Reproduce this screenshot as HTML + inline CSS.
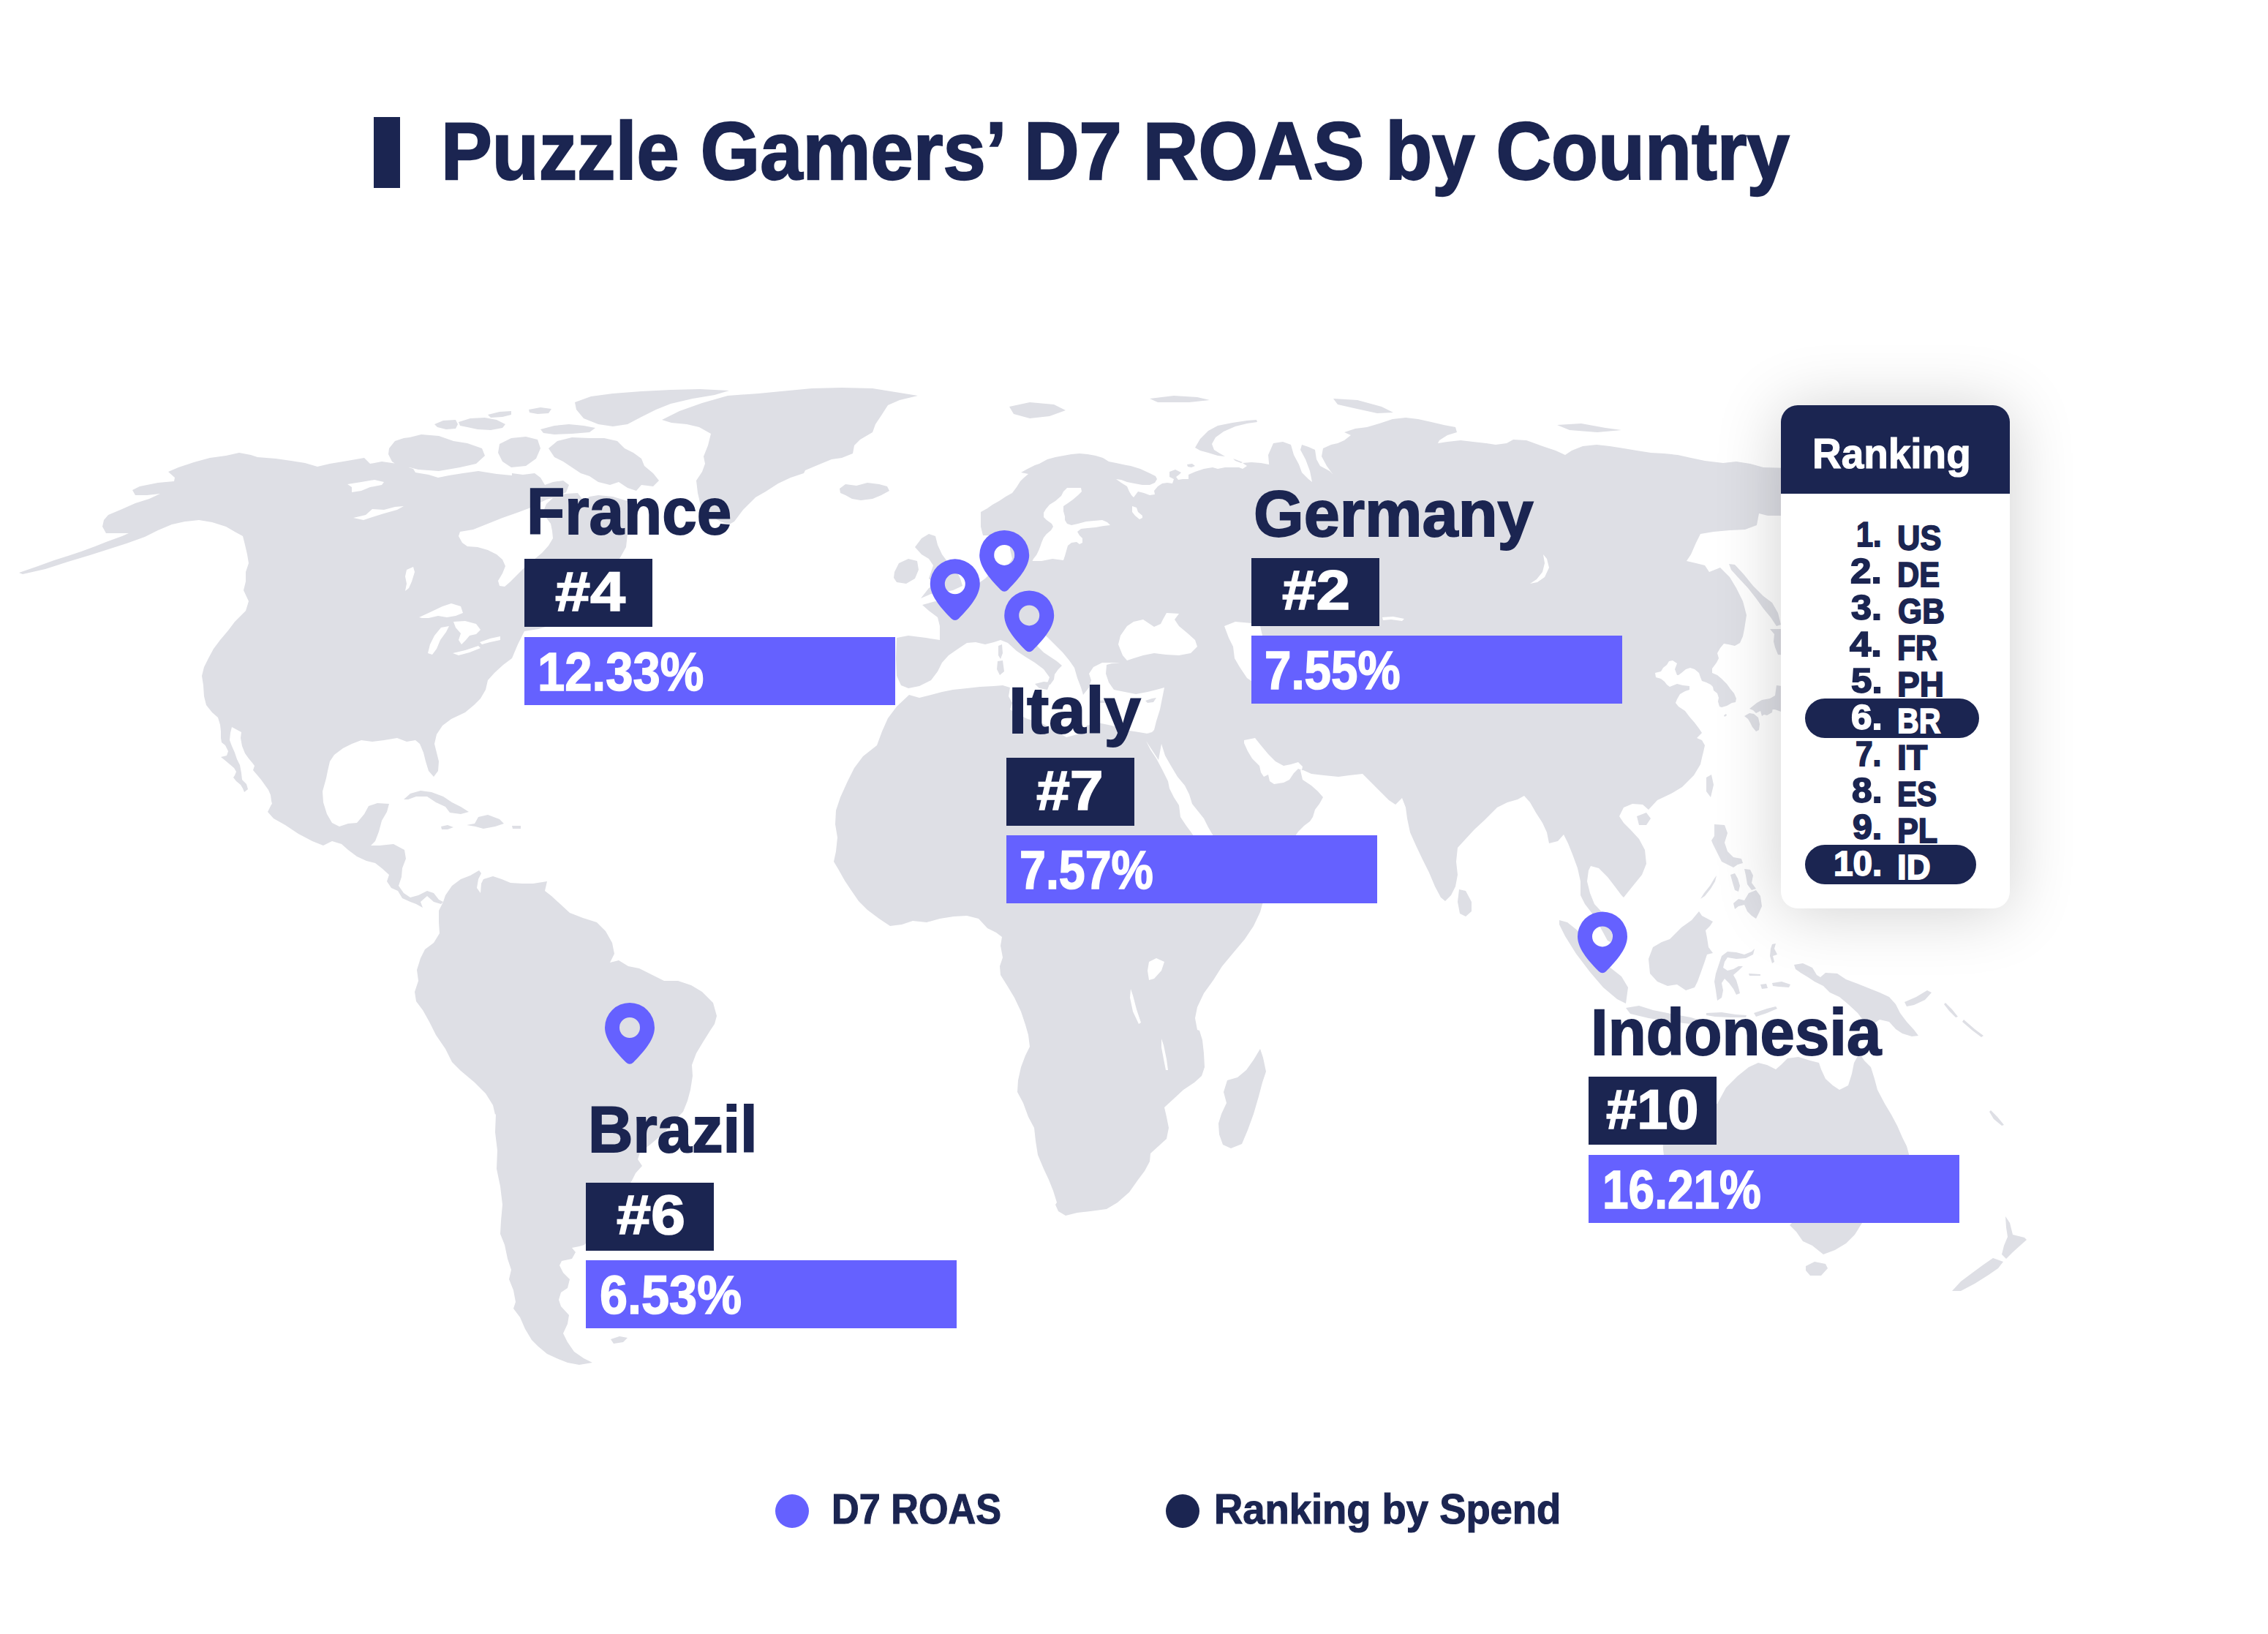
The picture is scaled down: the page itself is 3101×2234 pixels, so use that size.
<!DOCTYPE html>
<html><head><meta charset="utf-8"><title>Puzzle Gamers' D7 ROAS by Country</title>
<style>
html,body{margin:0;padding:0;background:#fff}
body{width:3101px;height:2234px;position:relative;overflow:hidden;font-family:"Liberation Sans",sans-serif;font-weight:700}
.t{position:absolute;line-height:1;white-space:nowrap;transform-origin:left top}
.r{position:absolute}
svg{position:absolute;left:0;top:0}
.card{position:absolute;left:2435px;top:553.7px;width:313px;height:688.3px;border-radius:23px;background:#fff;box-shadow:0 4px 90px rgba(0,0,10,0.19);overflow:hidden}
.hd{height:121.6px;background:#1b2551}
</style></head><body>
<svg width="3101" height="2234" viewBox="0 0 3101 2234"><g fill="#dedfe5"><path d="M26,783L52,774L74,766L93,760L111,754L130,747L145,741L167,733L176,729L160,729L145,729L140,720L142,711L148,704L167,696L185,688L204,682L219,675L201,677L185,677L181,670L191,665L216,660L238,658L239,653L230,645L244,639L265,632L287,626L309,623L327,619L343,622L352,625L377,627L398,630L417,633L434,638L451,634L475,630L498,626L506,634L522,631L543,634L565,641L568,646L586,649L599,653L614,650L633,647L654,644L679,648L700,650L700,647L715,649L731,647L739,653L745,663L756,659L770,657L778,663L774,673L762,679L747,683L735,689L723,695L707,701L687,708L667,716L647,724L629,727L627,733L632,742L639,747L653,748L667,752L679,758L687,765L691,774L687,784L681,794L683,801L690,802L697,796L707,786L717,776L729,766L741,756L750,746L756,736L755,726L753,716L747,708L743,699L747,689L758,679L774,675L790,674L798,685L806,679L818,677L838,679L858,685L862,705L858,730L856,748L847,764L841,782L828,798L816,813L798,829L785,844L760,853L736,860L717,863L708,881L700,900L688,909L676,920L667,930L664,943L657,955L648,964L636,974L617,983L605,992L597,1004L594,1017L597,1029L600,1041L599,1054L593,1062L586,1054L582,1041L579,1029L574,1017L568,1012L556,1014L543,1009L525,1012L509,1014L494,1012L481,1017L469,1023L457,1032L451,1041L448,1054L446,1064L446,1064L441,1082L442,1097L447,1113L454,1125L464,1130L476,1126L488,1125L498,1113L504,1102L516,1098L532,1099L529,1110L522,1122L518,1137L513,1150L507,1156L519,1156L538,1154L553,1162L555,1174L550,1187L549,1199L545,1211L552,1221L561,1227L572,1224L584,1218L593,1221L600,1230L606,1233L603,1236L593,1233L584,1225L575,1233L578,1241L569,1236L561,1233L550,1228L544,1218L535,1214L529,1205L532,1196L522,1187L513,1180L501,1177L488,1171L476,1162L467,1154L454,1150L442,1156L427,1150L408,1140L390,1128L374,1119L366,1110L371,1100L372,1099L371,1095L370,1087L367,1080L362,1073L357,1066L352,1060L346,1053L348,1047L345,1043L340,1037L335,1030L331,1020L329,1009L330,1001L317,994L315,1002L314,1012L317,1020L321,1029L324,1038L328,1046L330,1057L331,1066L337,1072L339,1079L334,1083L332,1078L329,1073L323,1068L319,1063L321,1060L323,1055L320,1050L313,1044L307,1039L302,1035L310,1033L312,1027L308,1019L303,1015L302,1009L302,1000L301,991L298,981L290,974L282,964L279,952L278,937L276,924L279,912L285,900L292,887L301,875L312,862L321,850L327,844L336,835L340,822L333,807L336,795L336,782L340,770L338,758L335,745L332,733L321,727L309,720L290,714L272,711L253,713L235,717L216,725L198,734L173,743L148,751L123,759L93,768L62,778L31,785ZM905,574L929,562L960,551L995,541L1037,538L1068,535L1110,531L1151,530L1193,531L1224,536L1255,541L1230,547L1214,554L1205,568L1197,580L1193,591L1176,601L1168,609L1166,620L1151,626L1137,628L1120,635L1101,643L1099,647L1081,653L1064,661L1047,672L1033,680L1024,689L1016,697L1010,705L1004,713L997,717L985,713L968,703L958,691L954,674L952,657L960,645L964,634L962,624L968,609L972,593L956,584L939,580L918,578ZM1148,668L1156,662L1171,664L1186,660L1202,662L1213,665L1216,671L1205,677L1193,682L1177,684L1165,682L1156,677L1149,674ZM552,1093L561,1085L575,1081L590,1083L606,1089L618,1097L630,1103L641,1110L630,1113L615,1111L609,1103L596,1097L584,1089L569,1089L558,1093ZM638,1128L649,1126L654,1117L667,1114L683,1120L689,1126L677,1130L661,1133L650,1130ZM603,1130L612,1128L620,1131L612,1134L604,1134ZM700,1129L712,1129L712,1133L701,1133ZM606,1233L609,1224L618,1211L630,1202L643,1197L655,1190L658,1194L654,1202L652,1214L657,1221L658,1208L661,1202L674,1198L686,1202L698,1207L714,1208L729,1208L748,1205L745,1218L754,1225L766,1236L779,1248L797,1255L816,1261L828,1273L837,1289L840,1304L834,1316L846,1313L859,1321L874,1324L890,1332L908,1341L927,1341L945,1347L960,1356L975,1371L980,1389L977,1400L971,1409L961,1425L952,1440L946,1456L947,1471L944,1490L940,1505L934,1520L921,1533L909,1548L890,1564L875,1576L872,1585L878,1594L869,1604L863,1616L856,1622L844,1635L847,1647L841,1665L829,1678L807,1693L799,1702L792,1704L782,1706L787,1712L782,1721L768,1724L765,1730L770,1740L779,1749L776,1761L767,1767L764,1777L767,1786L778,1798L776,1810L770,1823L776,1835L785,1848L798,1857L810,1863L792,1866L776,1863L761,1857L748,1851L736,1841L727,1832L718,1817L711,1801L702,1789L705,1780L702,1764L696,1749L699,1736L694,1721L690,1702L684,1687L685,1669L687,1647L684,1622L679,1598L680,1573L677,1548L678,1523L677,1524L674,1511L664,1495L649,1480L630,1464L618,1452L609,1434L596,1415L587,1397L578,1381L569,1369L567,1356L572,1341L570,1326L575,1310L581,1298L593,1289L601,1276L600,1261L600,1245ZM835,1831L847,1827L858,1829L852,1835L839,1837ZM1226,872L1242,869L1266,872L1285,875L1285,856L1282,844L1270,835L1261,827L1279,822L1291,824L1294,816L1303,819L1316,813L1328,804L1337,798L1347,791L1356,782L1365,776L1378,773L1384,764L1381,751L1381,739L1390,733L1393,745L1396,758L1402,765L1411,767L1424,767L1439,764L1454,766L1456,760L1458,753L1460,746L1465,742L1472,741L1476,744L1480,742L1480,736L1476,732L1473,727L1478,723L1487,722L1498,721L1509,719L1518,718L1514,714L1507,711L1496,712L1485,713L1474,716L1465,718L1459,716L1456,711L1456,706L1454,699L1454,692L1460,688L1467,683L1474,677L1479,672L1478,667L1459,667L1454,672L1451,678L1443,685L1435,690L1430,696L1427,701L1427,707L1431,711L1438,716L1440,720L1437,725L1431,730L1427,735L1424,742L1422,748L1420,753L1417,759L1413,764L1410,770L1407,782L1401,787L1396,776L1393,761L1391,745L1378,733L1344,732L1341,720L1341,709L1341,700L1350,695L1357,690L1366,685L1375,679L1384,674L1390,666L1395,658L1399,654L1406,648L1396,646L1405,641L1415,636L1421,634L1432,628L1443,625L1454,623L1465,621L1476,620L1487,621L1498,623L1508,626L1516,631L1526,633L1540,636L1546,637L1559,641L1572,647L1580,651L1582,655L1579,660L1572,663L1562,663L1551,661L1541,659L1533,656L1526,655L1533,660L1541,665L1544,672L1547,677L1550,680L1556,672L1564,674L1572,677L1579,676L1578,671L1583,665L1589,661L1596,660L1603,661L1605,655L1599,652L1599,645L1607,642L1615,646L1612,649L1608,652L1611,656L1617,655L1625,655L1625,649L1634,645L1646,641L1658,639L1665,641L1675,639L1685,639L1694,639L1699,641L1705,637L1699,633L1711,632L1724,633L1740,636L1736,644L1734,622L1741,606L1754,604L1765,608L1769,622L1776,635L1780,646L1789,655L1794,659L1791,644L1785,628L1778,615L1780,608L1789,611L1798,615L1800,628L1805,637L1818,644L1822,648L1814,637L1807,624L1809,613L1820,608L1829,606L1838,602L1847,595L1838,591L1853,586L1869,584L1886,579L1904,573L1922,571L1939,573L1957,577L1974,581L1990,584L1992,591L1979,595L1968,602L1966,606L1979,604L1997,602L2014,604L2032,606L2045,608L2060,606L2069,601L2087,602L2109,610L2127,616L2140,622L2149,616L2164,610L2183,608L2201,610L2220,613L2238,616L2257,619L2275,620L2294,622L2312,626L2331,630L2356,633L2374,631L2393,634L2411,639L2448,640L2448,705L2417,705L2405,702L2402,718L2386,724L2365,725L2343,727L2325,730L2319,742L2312,758L2306,767L2319,770L2331,773L2337,782L2352,776L2365,789L2374,804L2383,822L2388,841L2385,860L2383,870L2379,879L2372,883L2363,881L2357,880L2352,886L2348,893L2350,900L2347,906L2341,914L2341,920L2348,923L2354,928L2361,935L2366,942L2371,948L2374,955L2373,960L2368,961L2361,965L2354,967L2351,966L2349,959L2350,954L2348,948L2343,944L2342,939L2339,936L2333,933L2327,931L2325,926L2323,920L2317,915L2311,913L2305,915L2299,920L2295,923L2293,923L2290,915L2293,907L2287,903L2282,904L2279,909L2274,913L2271,918L2263,920L2264,926L2271,928L2276,932L2279,936L2283,939L2293,935L2301,937L2310,938L2310,943L2304,945L2297,949L2293,956L2291,961L2295,966L2304,972L2310,980L2317,988L2323,996L2327,1002L2320,1009L2327,1012L2331,1019L2329,1028L2327,1036L2325,1045L2316,1060L2300,1076L2285,1085L2266,1094L2254,1107L2246,1100L2232,1099L2220,1104L2214,1116L2220,1125L2229,1134L2241,1147L2249,1162L2251,1181L2245,1196L2232,1212L2220,1227L2217,1224L2208,1212L2198,1199L2186,1187L2175,1184L2172,1190L2170,1205L2174,1221L2180,1236L2192,1249L2204,1276L2206,1290L2198,1286L2186,1264L2177,1249L2167,1236L2161,1224L2161,1205L2157,1187L2150,1168L2144,1153L2138,1141L2130,1150L2118,1153L2115,1138L2109,1125L2100,1111L2092,1097L2084,1088L2075,1093L2061,1097L2047,1104L2038,1113L2029,1122L2016,1134L2004,1147L1993,1159L1991,1178L1993,1196L1990,1212L1984,1224L1976,1232L1970,1227L1962,1212L1954,1193L1945,1175L1936,1156L1928,1138L1924,1119L1922,1104L1917,1091L1908,1100L1899,1094L1890,1085L1879,1074L1871,1066L1863,1058L1845,1060L1830,1062L1810,1060L1793,1058L1782,1053L1778,1053L1781,1066L1793,1074L1802,1082L1809,1090L1804,1099L1798,1107L1795,1117L1791,1123L1783,1129L1775,1137L1771,1143L1755,1156L1726,1176L1697,1188L1677,1191L1665,1176L1659,1143L1652,1131L1646,1119L1638,1109L1630,1099L1626,1086L1620,1074L1610,1062L1601,1047L1593,1033L1588,1017L1584,1039L1567,1013L1566,1003L1575,1001L1578,998L1581,986L1586,970L1589,955L1592,940L1581,943L1569,946L1553,949L1538,946L1523,943L1516,933L1512,921L1513,909L1520,907L1532,906L1520,906L1507,906L1495,912L1489,921L1492,930L1489,940L1481,950L1478,940L1473,927L1469,913L1462,903L1453,892L1442,881L1433,872L1424,864L1410,865L1413,875L1419,884L1427,892L1436,898L1445,904L1452,910L1447,915L1442,922L1441,929L1436,936L1432,934L1435,926L1427,915L1415,906L1402,898L1390,890L1378,879L1368,875L1359,878L1347,881L1334,878L1322,879L1310,887L1297,896L1288,906L1282,918L1273,930L1257,938L1242,941L1232,937L1226,924L1225,900ZM1251,748L1260,736L1270,730L1279,733L1282,745L1288,758L1297,770L1307,779L1313,791L1316,801L1303,807L1288,810L1273,812L1259,818L1270,804L1279,798L1270,791L1273,782L1276,773L1270,764L1260,758ZM1223,782L1229,770L1242,764L1254,767L1256,779L1251,791L1239,798L1226,796L1222,790ZM1365,883L1370,881L1371,893L1368,901L1365,896ZM1364,904L1371,903L1373,918L1367,923L1363,915ZM1415,935L1427,932L1436,933L1432,943L1421,941ZM1501,958L1513,957L1523,959L1513,961L1503,961ZM1566,958L1575,955L1581,954L1577,960L1569,961ZM1634,612L1641,600L1652,589L1665,582L1685,578L1705,575L1718,574L1719,577L1705,579L1689,583L1673,590L1662,598L1657,607L1660,615L1668,620L1675,624L1665,623L1652,619L1641,616ZM1623,635L1630,634L1634,637L1629,639L1624,638ZM1686,627L1694,630L1699,632L1697,633L1689,630ZM1380,556L1408,550L1441,553L1457,561L1435,569L1408,572L1386,566ZM1572,545L1605,541L1637,543L1654,547L1626,550L1583,550ZM1823,545L1856,547L1889,556L1905,564L1883,565L1851,558L1829,553ZM2129,581L2162,579L2195,585L2217,588L2184,591L2146,588ZM2364,771L2372,772L2384,785L2397,801L2411,815L2423,824L2431,838L2435,854L2429,856L2421,844L2411,832L2401,818L2390,804L2376,789L2367,779ZM2420,860L2426,867L2425,877L2427,885L2431,895L2443,896L2443,860ZM2392,969L2402,961L2409,957L2420,955L2427,951L2428,944L2429,937L2443,939L2443,976L2427,970L2419,969L2415,975L2409,979L2407,972L2401,975L2397,971ZM2385,979L2392,975L2398,976L2404,981L2406,990L2405,998L2401,1000L2396,994L2393,988L2390,983ZM2409,971L2416,968L2424,967L2423,974L2416,978L2412,977ZM2357,978L2360,976L2361,978L2358,980ZM2238,1116L2251,1111L2257,1119L2251,1128L2241,1128ZM2333,1063L2340,1059L2343,1073L2339,1090L2333,1082ZM1995,1216L2004,1218L2012,1233L2012,1246L2004,1253L1996,1249L1993,1233ZM2132,1258L2143,1261L2158,1273L2174,1289L2198,1320L2217,1335L2226,1350L2223,1372L2211,1366L2192,1350L2174,1329L2155,1304L2140,1280L2132,1264ZM2223,1378L2241,1375L2260,1381L2285,1386L2312,1391L2331,1397L2312,1400L2285,1397L2254,1392L2229,1386ZM2344,1127L2358,1128L2362,1139L2358,1152L2362,1164L2370,1172L2381,1174L2383,1180L2376,1182L2370,1186L2362,1182L2354,1178L2348,1166L2342,1154L2340,1149L2344,1143ZM2325,1229L2330,1221L2338,1211L2344,1201L2347,1197L2345,1205L2339,1215L2331,1225ZM2385,1188L2393,1189L2397,1197L2395,1207L2401,1215L2395,1217L2389,1209L2387,1197ZM2366,1196L2372,1194L2376,1201L2379,1211L2377,1219L2372,1217L2369,1207ZM2370,1235L2377,1229L2385,1231L2391,1221L2401,1217L2407,1225L2409,1239L2405,1248L2401,1256L2395,1252L2389,1246L2385,1237L2377,1239L2372,1243ZM2260,1295L2272,1288L2283,1284L2299,1268L2313,1258L2323,1246L2327,1252L2342,1260L2338,1266L2332,1272L2334,1282L2336,1295L2342,1303L2334,1305L2330,1317L2325,1331L2321,1342L2317,1350L2305,1354L2293,1346L2280,1348L2266,1342L2256,1331L2254,1311ZM2354,1307L2362,1301L2374,1302L2385,1305L2395,1301L2399,1297L2397,1305L2387,1310L2374,1311L2362,1309L2358,1315L2356,1323L2362,1327L2370,1325L2377,1321L2383,1321L2377,1327L2370,1333L2374,1340L2377,1350L2379,1358L2374,1360L2370,1352L2364,1344L2358,1338L2354,1344L2356,1354L2354,1364L2348,1368L2346,1354L2344,1342L2346,1331L2350,1319ZM2423,1291L2428,1290L2426,1297L2430,1305L2424,1307L2426,1315L2423,1317L2420,1307L2421,1297ZM2423,1344L2436,1342L2448,1346L2446,1350L2432,1349L2424,1348ZM2407,1346L2415,1345L2417,1351L2409,1352ZM2391,1331L2407,1332L2407,1334L2392,1334ZM2398,1385L2416,1379L2428,1376L2430,1379L2416,1385L2401,1390ZM2333,1385L2354,1384L2373,1387L2388,1388L2387,1391L2367,1391L2345,1390L2333,1388ZM2453,1319L2465,1317L2478,1323L2484,1333L2489,1336L2496,1330L2512,1331L2524,1339L2540,1345L2555,1351L2570,1357L2583,1363L2592,1373L2598,1385L2607,1397L2617,1408L2623,1416L2614,1417L2601,1413L2592,1407L2583,1397L2570,1394L2561,1400L2549,1397L2540,1385L2527,1373L2515,1363L2502,1357L2493,1348L2481,1342L2472,1336L2462,1330L2455,1325ZM2604,1370L2620,1363L2635,1354L2641,1357L2632,1367L2617,1374L2607,1376ZM2660,1371L2669,1380L2677,1390L2674,1391L2665,1382L2658,1373ZM2685,1394L2700,1407L2712,1416L2709,1418L2697,1409L2683,1397ZM2722,1518L2731,1527L2740,1538L2737,1539L2726,1530L2720,1520ZM2277,1521L2299,1518L2323,1515L2348,1509L2360,1487L2376,1471L2391,1459L2404,1453L2416,1456L2428,1462L2435,1456L2444,1447L2459,1445L2475,1450L2487,1453L2490,1462L2496,1475L2506,1484L2515,1490L2527,1484L2532,1468L2535,1453L2540,1444L2541,1438L2549,1450L2558,1459L2563,1475L2567,1490L2577,1509L2586,1524L2594,1539L2601,1555L2607,1567L2610,1578L2612,1595L2607,1617L2595,1638L2577,1657L2546,1672L2536,1688L2524,1700L2509,1709L2493,1715L2478,1703L2465,1697L2456,1684L2447,1675L2459,1663L2462,1654L2453,1641L2441,1629L2416,1620L2385,1617L2354,1623L2323,1632L2305,1638L2290,1632L2283,1620L2277,1595L2274,1572L2273,1549ZM2469,1731L2481,1725L2496,1728L2499,1734L2490,1744L2475,1744L2469,1737ZM2742,1663L2748,1672L2752,1688L2768,1692L2771,1695L2762,1703L2752,1712L2743,1721L2737,1715L2740,1703L2745,1691L2743,1678ZM2725,1720L2739,1725L2732,1734L2719,1743L2700,1755L2681,1765L2669,1765L2681,1752L2697,1740L2712,1729ZM1243,950L1257,954L1273,950L1288,946L1303,943L1322,941L1340,939L1359,938L1371,937L1381,940L1379,952L1384,961L1381,970L1393,977L1405,983L1421,987L1442,998L1458,1008L1473,1004L1486,992L1501,988L1520,992L1538,998L1557,1001L1569,1003L1578,1000L1566,1003L1567,1013L1573,1025L1581,1037L1589,1052L1597,1068L1599,1078L1605,1090L1612,1101L1614,1117L1622,1129L1628,1137L1632,1143L1642,1166L1657,1195L1687,1201L1716,1197L1740,1205L1733,1225L1726,1236L1723,1247L1714,1266L1702,1284L1686,1303L1671,1321L1659,1340L1646,1358L1637,1377L1634,1392L1637,1408L1640,1409L1644,1422L1646,1440L1647,1459L1643,1471L1633,1480L1618,1490L1604,1503L1592,1514L1595,1527L1598,1542L1595,1557L1584,1567L1573,1577L1572,1588L1565,1601L1556,1613L1544,1630L1528,1644L1513,1653L1491,1656L1473,1658L1457,1662L1447,1656L1443,1647L1445,1644L1440,1628L1434,1613L1427,1598L1419,1579L1416,1560L1414,1542L1406,1527L1399,1508L1391,1493L1392,1477L1396,1459L1402,1443L1408,1431L1406,1415L1402,1401L1396,1383L1387,1364L1378,1349L1368,1333L1367,1321L1371,1309L1368,1293L1370,1281L1362,1275L1350,1269L1338,1256L1322,1252L1304,1253L1285,1256L1267,1261L1248,1259L1233,1264L1217,1266L1202,1256L1186,1244L1174,1232L1165,1219L1155,1204L1146,1188L1140,1178L1143,1164L1145,1145L1142,1127L1143,1108L1149,1090L1159,1068L1168,1050L1180,1034L1199,1019L1206,1000L1214,982L1226,966L1243,950ZM1723,1434L1727,1446L1731,1465L1726,1480L1721,1499L1714,1523L1706,1545L1698,1564L1683,1570L1672,1565L1667,1551L1666,1536L1670,1523L1677,1508L1673,1493L1678,1477L1692,1473L1704,1463L1714,1449ZM594,580L606,575L623,574L626,580L623,586L610,587L598,584ZM627,577L643,572L663,571L679,574L691,580L687,585L671,588L653,587L639,584L629,582ZM667,567L683,563L699,562L699,567L687,570L671,571ZM531,621L532,613L540,603L552,599L560,598L576,594L600,596L620,603L639,606L659,613L663,623L651,634L629,639L600,644L572,642L560,639L548,639L536,631ZM683,607L699,599L719,597L735,601L739,613L733,627L719,637L699,639L687,631L681,619ZM739,587L758,582L778,580L798,582L814,585L806,591L782,593L758,594L743,592ZM723,560L739,557L754,559L750,565L735,566L724,564ZM786,550L808,542L838,538L877,535L917,533L957,532L997,534L977,540L947,545L917,552L897,560L877,570L858,580L838,583L818,580L798,572L788,560ZM750,613L762,603L782,598L806,599L826,599L844,603L854,613L866,619L877,627L881,637L893,647L901,657L893,665L877,663L870,671L858,667L846,659L834,663L818,659L806,651L794,647L782,639L770,631L758,625Z"/><path fill="#fff" d="M573,844L586,838L605,829L617,825L630,829L633,838L623,842L611,844L599,842L586,845L577,845ZM603,858L594,869L588,881L585,893L591,895L597,887L602,875L610,864L614,856ZM620,850L636,849L651,853L657,861L651,867L642,869L637,875L631,881L627,875L630,866L623,858ZM619,893L636,889L654,883L657,886L642,892L627,896ZM656,878L670,873L684,870L684,875L670,878L659,881ZM556,779L565,775L567,782L563,795L559,804L554,808L556,798L554,788ZM483,708L500,704L509,696L525,697L540,693L552,692L543,697L525,702L509,707L497,711ZM475,662L494,659L512,656L525,659L522,663L506,666L494,671L481,673L481,666ZM1548,692L1554,694L1556,700L1562,705L1562,708L1558,710L1552,705L1548,700ZM1535,896L1529,881L1532,869L1541,856L1550,850L1563,847L1572,853L1578,857L1587,853L1590,847L1595,838L1612,839L1606,847L1612,856L1624,866L1634,875L1637,884L1628,893L1612,896L1594,895L1578,893L1563,896L1550,900L1541,903ZM1674,856L1689,850L1711,852L1723,856L1726,869L1717,878L1711,887L1717,900L1723,915L1726,930L1717,935L1705,927L1695,912L1688,900L1686,884L1680,872ZM1701,1012L1716,1009L1724,1019L1734,1031L1744,1041L1755,1047L1765,1045L1775,1042L1781,1048L1780,1053L1775,1051L1769,1057L1763,1066L1755,1070L1742,1072L1736,1068L1734,1059L1728,1062L1724,1056L1722,1047L1712,1037L1706,1027L1701,1016ZM2110,758L2115,764L2118,776L2112,789L2102,796L2092,798L2101,792L2109,782L2112,770ZM1890,844L1905,843L1920,846L1917,849L1902,847L1891,848ZM1571,1315L1581,1310L1592,1315L1588,1327L1578,1338L1571,1340L1569,1327ZM1546,1352L1549,1361L1554,1380L1560,1398L1557,1400L1549,1383L1545,1364ZM1588,1420L1591,1429L1595,1448L1597,1463L1594,1463L1591,1448L1588,1432Z"/></g></svg>
<svg width="3101" height="2234" viewBox="0 0 3101 2234" style="z-index:2"><g fill="#6561ff" fill-rule="evenodd"><path transform="translate(1271.8,764.3)" d="M34,0A34,34 0 0 1 68,34C68,52 50,70 39,81.5Q34,86 29,81.5C18,70 0,52 0,34A34,34 0 0 1 34,0ZM34,20A14,14 0 1 0 34,48A14,14 0 1 0 34,20Z"/><path transform="translate(1339.2,724.9)" d="M34,0A34,34 0 0 1 68,34C68,52 50,70 39,81.5Q34,86 29,81.5C18,70 0,52 0,34A34,34 0 0 1 34,0ZM34,20A14,14 0 1 0 34,48A14,14 0 1 0 34,20Z"/><path transform="translate(1373.2,807.4)" d="M34,0A34,34 0 0 1 68,34C68,52 50,70 39,81.5Q34,86 29,81.5C18,70 0,52 0,34A34,34 0 0 1 34,0ZM34,20A14,14 0 1 0 34,48A14,14 0 1 0 34,20Z"/><path transform="translate(827,1371)" d="M34,0A34,34 0 0 1 68,34C68,52 50,70 39,81.5Q34,86 29,81.5C18,70 0,52 0,34A34,34 0 0 1 34,0ZM34,20A14,14 0 1 0 34,48A14,14 0 1 0 34,20Z"/><path transform="translate(2157,1246.4)" d="M34,0A34,34 0 0 1 68,34C68,52 50,70 39,81.5Q34,86 29,81.5C18,70 0,52 0,34A34,34 0 0 1 34,0ZM34,20A14,14 0 1 0 34,48A14,14 0 1 0 34,20Z"/></g></svg>
<div style="position:absolute;left:0;top:0;z-index:3">
<div class="r" style="left:511.0px;top:160.0px;width:36.0px;height:97.0px;background:#1b2551;"></div>
<div class="t" style="left:602.6px;top:151.4px;font-size:111.4px;color:#1b2551;-webkit-text-stroke:2.30px #1b2551;transform:scaleX(0.9396);">Puzzle Gamers’ D7 ROAS by Country</div>
<div class="t" style="left:719.9px;top:655.2px;font-size:89.7px;color:#1b2551;-webkit-text-stroke:1.85px #1b2551;transform:scaleX(0.9526);">France</div>
<div class="r" style="left:717.0px;top:764.2px;width:175.0px;height:93.0px;background:#1b2551;"></div>
<div class="t" style="left:758.6px;top:771.9px;font-size:75.6px;color:#fff;-webkit-text-stroke:1.56px #fff;transform:scaleX(1.1432);">#4</div>
<div class="r" style="left:717.0px;top:870.5px;width:507.0px;height:93.0px;background:#6561ff;"></div>
<div class="t" style="left:734.9px;top:881.5px;font-size:73.7px;color:#fff;-webkit-text-stroke:1.52px #fff;transform:scaleX(0.9093);">12.33%</div>
<div class="t" style="left:1714.1px;top:657.7px;font-size:89.5px;color:#1b2551;-webkit-text-stroke:1.84px #1b2551;transform:scaleX(0.9863);">Germany</div>
<div class="r" style="left:1711.0px;top:762.7px;width:175.0px;height:93.0px;background:#1b2551;"></div>
<div class="t" style="left:1753.0px;top:770.4px;font-size:75.6px;color:#fff;-webkit-text-stroke:1.56px #fff;transform:scaleX(1.1083);">#2</div>
<div class="r" style="left:1711.0px;top:869.0px;width:507.0px;height:93.0px;background:#6561ff;"></div>
<div class="t" style="left:1728.7px;top:880.0px;font-size:73.7px;color:#fff;-webkit-text-stroke:1.52px #fff;transform:scaleX(0.8886);">7.55%</div>
<div class="t" style="left:1378.6px;top:927.0px;font-size:89.4px;color:#1b2551;-webkit-text-stroke:1.84px #1b2551;transform:scaleX(1.0113);">Italy</div>
<div class="r" style="left:1376.4px;top:1036.0px;width:175.0px;height:93.0px;background:#1b2551;"></div>
<div class="t" style="left:1417.2px;top:1043.7px;font-size:75.6px;color:#fff;-webkit-text-stroke:1.56px #fff;transform:scaleX(1.0909);">#7</div>
<div class="r" style="left:1376.4px;top:1142.3px;width:507.0px;height:93.0px;background:#6561ff;"></div>
<div class="t" style="left:1393.7px;top:1153.3px;font-size:73.7px;color:#fff;-webkit-text-stroke:1.52px #fff;transform:scaleX(0.8758);">7.57%</div>
<div class="t" style="left:804.0px;top:1499.5px;font-size:89.3px;color:#1b2551;-webkit-text-stroke:1.84px #1b2551;transform:scaleX(0.9529);">Brazil</div>
<div class="r" style="left:800.9px;top:1616.5px;width:175.0px;height:93.0px;background:#1b2551;"></div>
<div class="t" style="left:842.6px;top:1624.2px;font-size:75.6px;color:#fff;-webkit-text-stroke:1.56px #fff;transform:scaleX(1.1182);">#6</div>
<div class="r" style="left:800.9px;top:1722.8px;width:507.0px;height:93.0px;background:#6561ff;"></div>
<div class="t" style="left:820.1px;top:1733.8px;font-size:73.7px;color:#fff;-webkit-text-stroke:1.52px #fff;transform:scaleX(0.9286);">6.53%</div>
<div class="t" style="left:2175.3px;top:1367.8px;font-size:88.8px;color:#1b2551;-webkit-text-stroke:1.83px #1b2551;transform:scaleX(0.9584);">Indonesia</div>
<div class="r" style="left:2172.2px;top:1472.2px;width:175.0px;height:93.0px;background:#1b2551;"></div>
<div class="t" style="left:2195.9px;top:1479.9px;font-size:75.6px;color:#fff;-webkit-text-stroke:1.56px #fff;transform:scaleX(1.0025);">#10</div>
<div class="r" style="left:2172.2px;top:1578.5px;width:507.0px;height:93.0px;background:#6561ff;"></div>
<div class="t" style="left:2190.8px;top:1589.5px;font-size:73.7px;color:#fff;-webkit-text-stroke:1.52px #fff;transform:scaleX(0.8678);">16.21%</div>
<div class="card"><div class="hd"></div></div>
<div class="t" style="left:2478.0px;top:591.9px;font-size:56.9px;color:#fff;-webkit-text-stroke:1.17px #fff;transform:scaleX(0.9658);">Ranking</div>
<div class="r" style="left:2468.0px;top:955.1px;width:238.0px;height:53.7px;background:#1b2551;border-radius:27px;"></div>
<div class="r" style="left:2468.0px;top:1155.1px;width:234.0px;height:53.7px;background:#1b2551;border-radius:27px;"></div>
<div class="t" style="left:2537.9px;top:706.7px;font-size:47.5px;color:#1b2551;-webkit-text-stroke:1.75px #1b2551;transform:scaleX(0.8737);">1.</div>
<div class="t" style="left:2594.1px;top:711.5px;font-size:47.5px;color:#1b2551;-webkit-text-stroke:1.75px #1b2551;transform:scaleX(0.9149);">US</div>
<div class="t" style="left:2530.4px;top:756.7px;font-size:47.5px;color:#1b2551;-webkit-text-stroke:1.75px #1b2551;transform:scaleX(1.0802);">2.</div>
<div class="t" style="left:2593.9px;top:761.5px;font-size:47.5px;color:#1b2551;-webkit-text-stroke:1.75px #1b2551;transform:scaleX(0.8809);">DE</div>
<div class="t" style="left:2531.0px;top:806.7px;font-size:47.5px;color:#1b2551;-webkit-text-stroke:1.75px #1b2551;transform:scaleX(1.0621);">3.</div>
<div class="t" style="left:2595.0px;top:811.5px;font-size:47.5px;color:#1b2551;-webkit-text-stroke:1.75px #1b2551;transform:scaleX(0.8966);">GB</div>
<div class="t" style="left:2529.4px;top:856.7px;font-size:47.5px;color:#1b2551;-webkit-text-stroke:1.75px #1b2551;transform:scaleX(1.1076);">4.</div>
<div class="t" style="left:2593.9px;top:861.5px;font-size:47.5px;color:#1b2551;-webkit-text-stroke:1.75px #1b2551;transform:scaleX(0.8651);">FR</div>
<div class="t" style="left:2530.5px;top:906.7px;font-size:47.5px;color:#1b2551;-webkit-text-stroke:1.75px #1b2551;transform:scaleX(1.0766);">5.</div>
<div class="t" style="left:2593.6px;top:911.5px;font-size:47.5px;color:#1b2551;-webkit-text-stroke:1.75px #1b2551;transform:scaleX(0.9690);">PH</div>
<div class="t" style="left:2530.6px;top:956.7px;font-size:47.5px;color:#fff;-webkit-text-stroke:1.75px #fff;transform:scaleX(1.0753);">6.</div>
<div class="t" style="left:2593.9px;top:961.5px;font-size:47.5px;color:#fff;-webkit-text-stroke:1.75px #fff;transform:scaleX(0.8664);">BR</div>
<div class="t" style="left:2537.2px;top:1006.7px;font-size:47.5px;color:#1b2551;-webkit-text-stroke:1.75px #1b2551;transform:scaleX(0.8933);">7.</div>
<div class="t" style="left:2593.5px;top:1011.5px;font-size:47.5px;color:#1b2551;-webkit-text-stroke:1.75px #1b2551;transform:scaleX(0.9762);">IT</div>
<div class="t" style="left:2531.6px;top:1056.7px;font-size:47.5px;color:#1b2551;-webkit-text-stroke:1.75px #1b2551;transform:scaleX(1.0478);">8.</div>
<div class="t" style="left:2593.9px;top:1061.5px;font-size:47.5px;color:#1b2551;-webkit-text-stroke:1.75px #1b2551;transform:scaleX(0.8551);">ES</div>
<div class="t" style="left:2532.7px;top:1106.7px;font-size:47.5px;color:#1b2551;-webkit-text-stroke:1.75px #1b2551;transform:scaleX(1.0168);">9.</div>
<div class="t" style="left:2593.8px;top:1111.5px;font-size:47.5px;color:#1b2551;-webkit-text-stroke:1.75px #1b2551;transform:scaleX(0.9110);">PL</div>
<div class="t" style="left:2506.5px;top:1156.7px;font-size:47.5px;color:#fff;-webkit-text-stroke:1.75px #fff;transform:scaleX(1.0052);">10.</div>
<div class="t" style="left:2593.6px;top:1161.5px;font-size:47.5px;color:#fff;-webkit-text-stroke:1.75px #fff;transform:scaleX(0.9594);">ID</div>
<div class="r" style="left:1060.0px;top:2043.0px;width:46.0px;height:46.0px;background:#6561ff;border-radius:50%;"></div>
<div class="t" style="left:1136.6px;top:2034.8px;font-size:56.9px;color:#1b2551;-webkit-text-stroke:1.17px #1b2551;transform:scaleX(0.9172);">D7 ROAS</div>
<div class="r" style="left:1594.0px;top:2043.0px;width:46.0px;height:46.0px;background:#1b2551;border-radius:50%;"></div>
<div class="t" style="left:1660.2px;top:2034.8px;font-size:56.9px;color:#1b2551;-webkit-text-stroke:1.17px #1b2551;transform:scaleX(0.9557);">Ranking by Spend</div>
</div>
</body></html>
